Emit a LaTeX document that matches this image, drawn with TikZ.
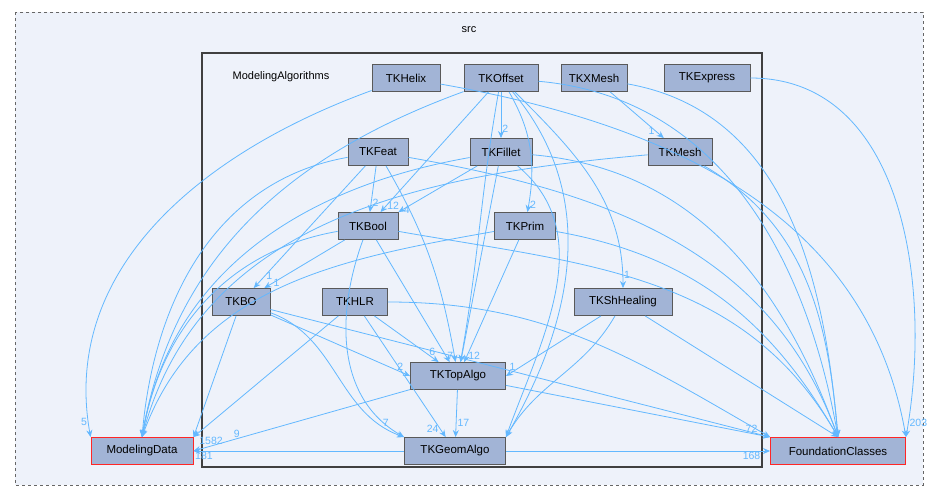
\documentclass[tikz,border=0pt]{standalone}
\usepackage{fontspec}
\setmainfont{Liberation Sans}
\usetikzlibrary{arrows.meta}
\definecolor{edge}{HTML}{63B8FF}
\definecolor{nfill}{HTML}{A2B4D6}
\definecolor{bg}{HTML}{EEF2FA}
\begin{document}
\begin{tikzpicture}[x=1pt,y=-1pt,
  mod/.style={draw=black!65,fill=nfill,line width=0.9pt,minimum height=27pt,inner xsep=3pt,font=\fontsize{11.5}{12}\selectfont},
  ext/.style={mod,draw=red!85},
  dep/.style={draw=edge,line width=0.8pt,-{Stealth[length=7pt,width=6pt]}},
  lb/.style={text=edge,font=\fontsize{10.5}{11}\selectfont,inner sep=1pt}]
\useasboundingbox (0,0) rectangle (939,501);
\draw[dashed,draw=black!60,fill=bg,line width=0.8pt] (15,12) rectangle (923,485);
\node at (469,30) {\fontsize{11}{12}\selectfont src};
\draw[draw=black!75,fill=bg,line width=1.5pt] (202,53) rectangle (762,467);
\node at (281,77) {\fontsize{11}{12}\selectfont ModelingAlgorithms};
\node[mod,minimum width=68pt] (helix) at (406,78) {TKHelix};
\node[mod,minimum width=74pt] (offset) at (501,78) {TKOffset};
\node[mod,minimum width=66pt] (xmesh) at (594,78) {TKXMesh};
\node[mod,minimum width=86pt] (express) at (707,78) {TKExpress};
\node[mod,minimum width=60pt] (feat) at (378,152) {TKFeat};
\node[mod,minimum width=62pt] (fillet) at (501,152) {TKFillet};
\node[mod,minimum width=64pt] (mesh) at (680,152) {TKMesh};
\node[mod,minimum width=60pt] (bool) at (368,226) {TKBool};
\node[mod,minimum width=61pt] (prim) at (525,226) {TKPrim};
\node[mod,minimum width=58pt] (bo) at (241,302) {TKBO};
\node[mod,minimum width=65pt] (hlr) at (355,302) {TKHLR};
\node[mod,minimum width=98pt] (shh) at (623,302) {TKShHealing};
\node[mod,minimum width=95pt] (topo) at (458,376) {TKTopAlgo};
\node[mod,minimum width=101pt] (geom) at (455,451) {TKGeomAlgo};
\node[ext,minimum width=102pt] (md) at (142,451) {ModelingData};
\node[ext,minimum width=135pt] (fc) at (838,451) {FoundationClasses};
% top row
\draw[dep] (helix) to[out=200,in=100] node[lb,pos=0.97,left]{5} (md.north west);
\draw[dep] (helix) to[out=-10,in=100] (fc.north east);
\draw[dep] (offset) to[out=200,in=80] (md.north);
\draw[dep] (offset) -- node[lb,pos=0.8,right]{2} (fillet);
\draw[dep] (offset) -- node[lb,pos=0.95,right]{12} (bool);
\draw[dep] (offset) to[out=-60,in=80] node[lb,pos=0.95,right]{2} (prim);
\draw[dep] (offset) to[out=-45,in=90] node[lb,pos=0.95,right]{1} (shh);
\draw[dep] (offset) to[out=-100,in=80] (topo);
\draw[dep] (offset) to[out=-50,in=60] (geom.north east);
\draw[dep] (offset) to[out=-5,in=100] (fc.north);
\draw[dep] (xmesh) -- node[lb,pos=0.85,left]{1} (mesh);
\draw[dep] (xmesh) to[out=-10,in=95] (fc.north);
\draw[dep] (express) to[out=0,in=80] node[lb,pos=0.97,right]{203} (fc.north east);
% second row
\draw[dep] (feat) to[out=190,in=85] (md.north);
\draw[dep] (feat) -- node[lb,pos=0.8,right]{2} (bool);
\draw[dep] (feat) -- node[lb,pos=0.9,right]{1} (bo);
\draw[dep] (feat) to[out=-60,in=100] (topo);
\draw[dep] (feat) to[out=-10,in=110] (fc.north);
\draw[dep] (fillet) -- node[lb,pos=0.95,right]{4} (bool.north east);
\draw[dep] (fillet) to[out=190,in=80] (md.north);
\draw[dep] (fillet) -- (topo);
\draw[dep] (fillet) to[out=-40,in=70] (geom.north east);
\draw[dep] (fillet) to[out=-5,in=110] (fc.north);
\draw[dep] (mesh) to[out=185,in=75] (md.north);
\draw[dep] (mesh) to[out=-30,in=95] (fc.north);
% third row
\draw[dep] (bool) to[out=190,in=80] (md.north);
\draw[dep] (bool) -- node[lb,pos=0.9,right]{1} (bo);
\draw[dep] (bool) -- node[lb,pos=0.95,right]{7} (topo);
\draw[dep] (bool) to[out=-110,in=150] (geom.north west);
\draw[dep] (bool) to[out=-10,in=120] (fc.north);
\draw[dep] (prim) to[out=190,in=70] (md.north);
\draw[dep] (prim) -- node[lb,pos=0.95,right]{12} (topo);
\draw[dep] (prim) to[out=-10,in=120] (fc.north);
% fourth row
\draw[dep] (bo) -- (md.north east);
\draw[dep] (bo) -- node[lb,pos=0.93,above]{2} (topo.west);
\draw[dep] (bo) to[out=-20,in=160] node[lb,pos=0.9,above]{7} (geom.north west);
\draw[dep] (bo) -- (fc.north west);
\draw[dep] (hlr) -- (md.north east);
\draw[dep] (hlr) -- node[lb,pos=0.9,above]{6} (topo);
\draw[dep] (hlr) -- node[lb,pos=0.93,left]{24} (geom);
\draw[dep] (hlr) to[out=0,in=150] (fc.north west);
\draw[dep] (shh) -- node[lb,pos=0.93,above]{1} (topo.east);
\draw[dep] (shh) to[out=-120,in=60] (geom.north east);
\draw[dep] (shh) -- (fc.north);
% lower
\draw[dep] (topo) -- node[lb,pos=0.8,above]{9} (md.east);
\draw[dep] (topo) -- node[lb,pos=0.7,right]{17} (geom);
\draw[dep] (topo) -- node[lb,pos=0.93,above]{72} (fc.north west);
\draw[dep] (geom) -- node[lb,pos=0.95,below]{181} (md);
\draw[dep] (geom) -- node[lb,pos=0.93,below]{168} (fc);
\node[lb] at (211,441) {1582};
\end{tikzpicture}
\end{document}
